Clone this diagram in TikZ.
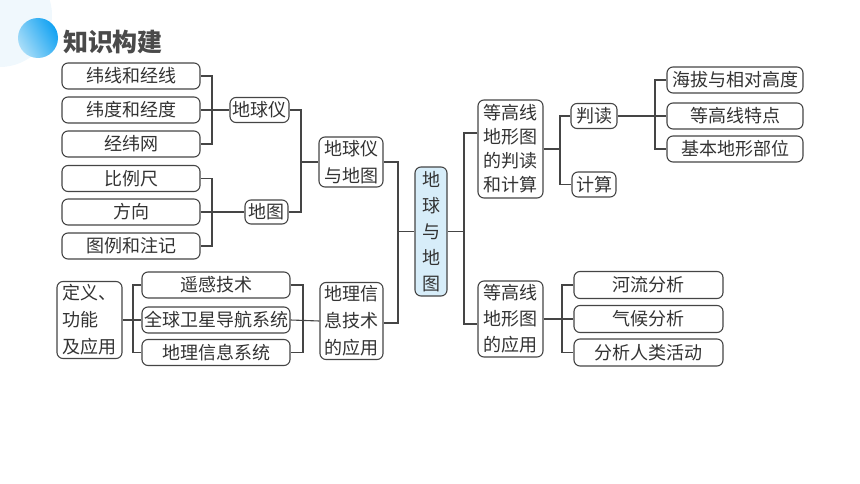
\documentclass[tikz,border=0pt]{standalone}
\usepackage{fontspec}
\newfontfamily\cjk{Noto Sans CJK SC}
\usetikzlibrary{calc}
\definecolor{lc}{HTML}{454545}
\definecolor{tc}{HTML}{333333}
\definecolor{cfill}{HTML}{D7EDF9}
\definecolor{pale}{HTML}{F0F8FD}
\definecolor{titlec}{HTML}{4A4A4A}
\definecolor{blueA}{HTML}{12A2F2}
\definecolor{blueB}{HTML}{A8DDF8}
\begin{document}
\begin{tikzpicture}[x=1pt,y=-1pt,
  box/.style={draw=lc, line width=1.1pt, rounded corners=6pt, fill=white, inner sep=0pt,
    align=center, text=tc, font=\cjk\fontsize{18}{24}\selectfont},
  bsz/.style 2 args={minimum width=#1pt, minimum height=#2pt},
  conn/.style={draw=lc, line width=1.1pt}]
\useasboundingbox (0,0) rectangle (860,484);
% title decoration
\fill[pale] (0,15) circle (52pt);
\shade[left color=blueA, right color=blueB, shading angle=300] (38,38) circle (20pt);
\node[font=\cjk\bfseries\fontsize{25}{28}\selectfont, text=titlec, anchor=center] (title) at (113,42) {知识构建};
% left group 1
\node[box,bsz={138}{26}] (a1) at (131,76) {纬线和经线};
\node[box,bsz={138}{26}] (a2) at (131,110) {纬度和经度};
\node[box,bsz={138}{26}] (a3) at (131,144) {经纬网};
\node[box,bsz={138}{26}] (b1) at (131,178.5) {比例尺};
\node[box,bsz={138}{26}] (b2) at (131,212) {方向};
\node[box,bsz={138}{26}] (b3) at (131,246) {图例和注记};
\node[box,bsz={59}{25}] (g1) at (259.5,110) {地球仪};
\node[box,bsz={43}{24}] (g2) at (266.5,212) {地图};
\node[box,bsz={64}{50},font=\cjk\fontsize{18}{27}\selectfont] (m1) at (351,162) {地球仪\\与地图};
% bottom left
\node[box,bsz={65}{77},align=left,font=\cjk\fontsize{18}{27}\selectfont] (d) at (89.5,320) {定义、\\功能\\及应用};
\node[box,bsz={148}{26}] (e1) at (216,285) {遥感技术};
\node[box,bsz={148}{26}] (e2) at (216,320) {全球卫星导航系统};
\node[box,bsz={148}{26}] (e3) at (216,352.5) {地理信息系统};
\node[box,bsz={63}{77},font=\cjk\fontsize{18}{27}\selectfont] (m2) at (351.5,321) {地理信\\息技术\\的应用};
% center
\node[box,bsz={32}{129},fill=cfill,font=\cjk\fontsize{18}{26}\selectfont] (c) at (431,231.5) {地\\球\\与\\地\\图};
% right
\node[box,bsz={65}{98},font=\cjk\fontsize{18}{24}\selectfont] (r1) at (510.5,149) {等高线\\地形图\\的判读\\和计算};
\node[box,bsz={65}{76},font=\cjk\fontsize{18}{26}\selectfont] (r2) at (510.5,319) {等高线\\地形图\\的应用};
\node[box,bsz={46}{25}] (p1) at (594,116) {判读};
\node[box,bsz={44}{25}] (p2) at (594,184.5) {计算};
\node[box,bsz={136}{26}] (q1) at (735,80) {海拔与相对高度};
\node[box,bsz={136}{26}] (q2) at (735,116) {等高线特点};
\node[box,bsz={136}{26}] (q3) at (735,149) {基本地形部位};
\node[box,bsz={149}{27}] (s1) at (648.5,285) {河流分析};
\node[box,bsz={149}{27}] (s2) at (648.5,319) {气候分析};
\node[box,bsz={149}{27}] (s3) at (648.5,352.5) {分析人类活动};
% junctions
\coordinate (j1) at (212,110);
\coordinate (j2) at (212,212);
\coordinate (j3) at (301,162);
\coordinate (j4) at (133,320);
\coordinate (j5) at (303,320);
\coordinate (j6) at (398,231.5);
\coordinate (j7) at (464,231.5);
\coordinate (j8) at (560,149);
\coordinate (j9) at (655,116);
\coordinate (j10) at (562,319);
% connectors
\draw[conn] (a1.east) -| (j1) |- (a3.east);
\draw[conn] (a2.east) -- (g1.west);
\draw[conn] (b1.east) -| (j2) |- (b3.east);
\draw[conn] (b2.east) -- (g2.west);
\draw[conn] (g1.east) -| (j3) |- (g2.east);
\draw[conn] (j3) -- (m1.west);
\draw[conn] (e1.west) -| (j4) |- (e3.west);
\draw[conn] (d.east) -- (e2.west);
\draw[conn] (e1.east) -| (j5) |- (e3.east);
\draw[conn] (e2.east) -- (m2.west);
\draw[conn] (m1.east) -| (j6) |- ($(m2.east)+(0,2)$);
\draw[conn] (j6) -- (c.west);
\draw[conn] ($(r1.west)+(0,-16)$) -| (j7) |- ($(r2.west)+(0,5)$);
\draw[conn] (c.east) -- (j7);
\draw[conn] (p1.west) -| (j8) |- (p2.west);
\draw[conn] (r1.east) -- (j8);
\draw[conn] (q1.west) -| (j9) |- (q3.west);
\draw[conn] (p1.east) -- (q2.west);
\draw[conn] (s1.west) -| (j10) |- (s3.west);
\draw[conn] (r2.east) -- (s2.west);
\end{tikzpicture}
\end{document}
